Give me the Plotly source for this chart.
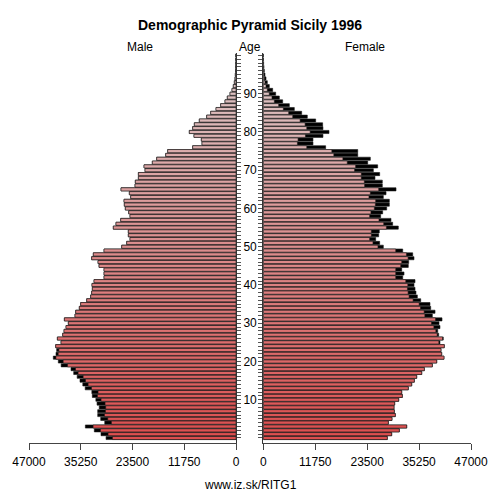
import plotly.graph_objects as go

ages = list(range(0, 101))

male = [
    29500, 30650, 32170, 34200, 29800, 30720, 31400, 31400, 31050, 31550,
    31820, 32620, 32730, 34240, 34780, 35420, 36060, 36850, 37460, 39700,
    40340, 41480, 40870, 40720, 40940, 39730, 40560, 39350, 39050, 38600,
    38070, 38970, 36560, 36400, 35580, 35270, 33900, 33000, 32770, 32620,
    32700, 32240, 29970, 29970, 29970, 31100, 31330, 32770, 32400, 29970,
    25950, 24820, 24070, 24450, 24450, 27860, 27250, 26180, 24070, 24360,
    25130, 25360, 25430, 23910, 24220, 26110, 22930, 22860, 22170, 22170,
    20660, 20890, 19000, 18010, 15960, 15510, 9840, 7720, 7870, 9540,
    10600, 9840, 9460, 8330, 6660, 5750, 4540, 3480, 2500, 1970,
    1360, 910, 610, 380, 230, 150, 80, 50, 30, 20,
    10,
]

female = [
    28060, 29050, 30780, 32450, 28290, 29120, 29870, 29650, 29580, 29730,
    30640, 31460, 31320, 32810, 33580, 34170, 34710, 35850, 36440, 38250,
    39240, 40890, 40370, 40210, 40960, 39980, 40730, 39690, 39470, 39980,
    39760, 40440, 38250, 38860, 37880, 37720, 35620, 34860, 34550, 34330,
    34100, 34330, 31550, 31840, 31320, 32810, 32900, 34100, 33810, 31550,
    27160, 26330, 25430, 26110, 26250, 30550, 29270, 28890, 26560, 27010,
    27920, 28520, 28520, 27160, 27770, 30030, 26930, 26930, 25270, 26330,
    24900, 25880, 23620, 24220, 21370, 21370, 14110, 11240, 11240, 13500,
    14860, 13500, 13430, 11850, 9960, 8680, 7020, 5890, 4380, 3630,
    2800, 2120, 1360, 910, 610, 380, 230, 150, 80, 40,
    20,
]

x_ticks = [0, 11750, 23500, 35250, 47000]
age_labels = [str(a) if a % 10 == 0 and 0 < a < 100 else "" for a in ages]

common = [min(m, f) for m, f in zip(male, female)]


def age_color(a):
    t = a / 100
    g = int(78 + t * 127)
    return f"rgb(220,{g},{g})"


colors = [age_color(a) for a in ages]
outline = dict(color="#1a1a1a", width=0.6)

fig = go.Figure()

fig.add_trace(go.Bar(x=male, y=ages, orientation="h", xaxis="x", yaxis="y",
                     marker=dict(color="black", line=outline), hoverinfo="skip"))
fig.add_trace(go.Bar(x=common, y=ages, orientation="h", xaxis="x", yaxis="y",
                     marker=dict(color=colors, line=outline), name="Male"))
fig.add_trace(go.Bar(x=female, y=ages, orientation="h", xaxis="x2", yaxis="y2",
                     marker=dict(color="black", line=outline), hoverinfo="skip"))
fig.add_trace(go.Bar(x=common, y=ages, orientation="h", xaxis="x2", yaxis="y2",
                     marker=dict(color=colors, line=outline), name="Female"))

axis_font = dict(family="Liberation Sans, Arial, sans-serif", size=12, color="black")
age_range = [-1.31, 100.65]

fig.update_layout(
    width=500,
    height=500,
    margin=dict(l=0, r=0, t=53, b=57, autoexpand=False),
    plot_bgcolor="white",
    paper_bgcolor="white",
    barmode="overlay",
    bargap=0.18,
    showlegend=False,
    font=axis_font,
    xaxis=dict(
        domain=[0.058, 0.472], range=[47000, 0], anchor="y", automargin=False,
        tickvals=x_ticks, ticktext=[str(v) for v in x_ticks],
        ticks="outside", ticklen=6, tickcolor="#444", ticklabelstandoff=2,
        showline=True, linecolor="#444", showgrid=False, zeroline=False,
    ),
    xaxis2=dict(
        domain=[0.5266, 0.942], range=[0, 47000], anchor="y2", automargin=False,
        tickvals=x_ticks, ticktext=[str(v) for v in x_ticks],
        ticks="outside", ticklen=6, tickcolor="#444", ticklabelstandoff=2,
        showline=True, linecolor="#444", showgrid=False, zeroline=False,
    ),
    yaxis=dict(
        range=age_range, anchor="x", side="right", automargin=False,
        tickvals=ages, ticktext=age_labels,
        ticks="outside", ticklen=4, tickcolor="#555", tickwidth=1,
        showline=True, linecolor="#333", showgrid=False, zeroline=False,
    ),
    yaxis2=dict(
        range=age_range, anchor="x2", side="left", automargin=False,
        tickvals=ages, showticklabels=False,
        ticks="outside", ticklen=4, tickcolor="#555", tickwidth=1,
        showline=True, linecolor="#333", showgrid=False, zeroline=False,
    ),
)

fig.add_annotation(text="<b>Demographic Pyramid Sicily 1996</b>", x=0.5, y=1.0718,
                   xref="paper", yref="paper", xanchor="center", yanchor="middle",
                   showarrow=False,
                   font=dict(size=14, family="Liberation Sans, Arial, sans-serif"))
for label, xpos in [("Male", 0.28), ("Age", 0.5), ("Female", 0.73)]:
    fig.add_annotation(text=label, x=xpos, y=1.0154, xref="paper", yref="paper",
                       xanchor="center", yanchor="middle",
                       showarrow=False, font=dict(size=12))
fig.add_annotation(text="www.iz.sk/RITG1", x=0.5, y=-0.1077, xref="paper", yref="paper",
                   xanchor="center", yanchor="middle",
                   showarrow=False, font=dict(size=12))

fig.write_html("out.html", config={"displayModeBar": False},
               post_script="document.body.style.margin='0';")
